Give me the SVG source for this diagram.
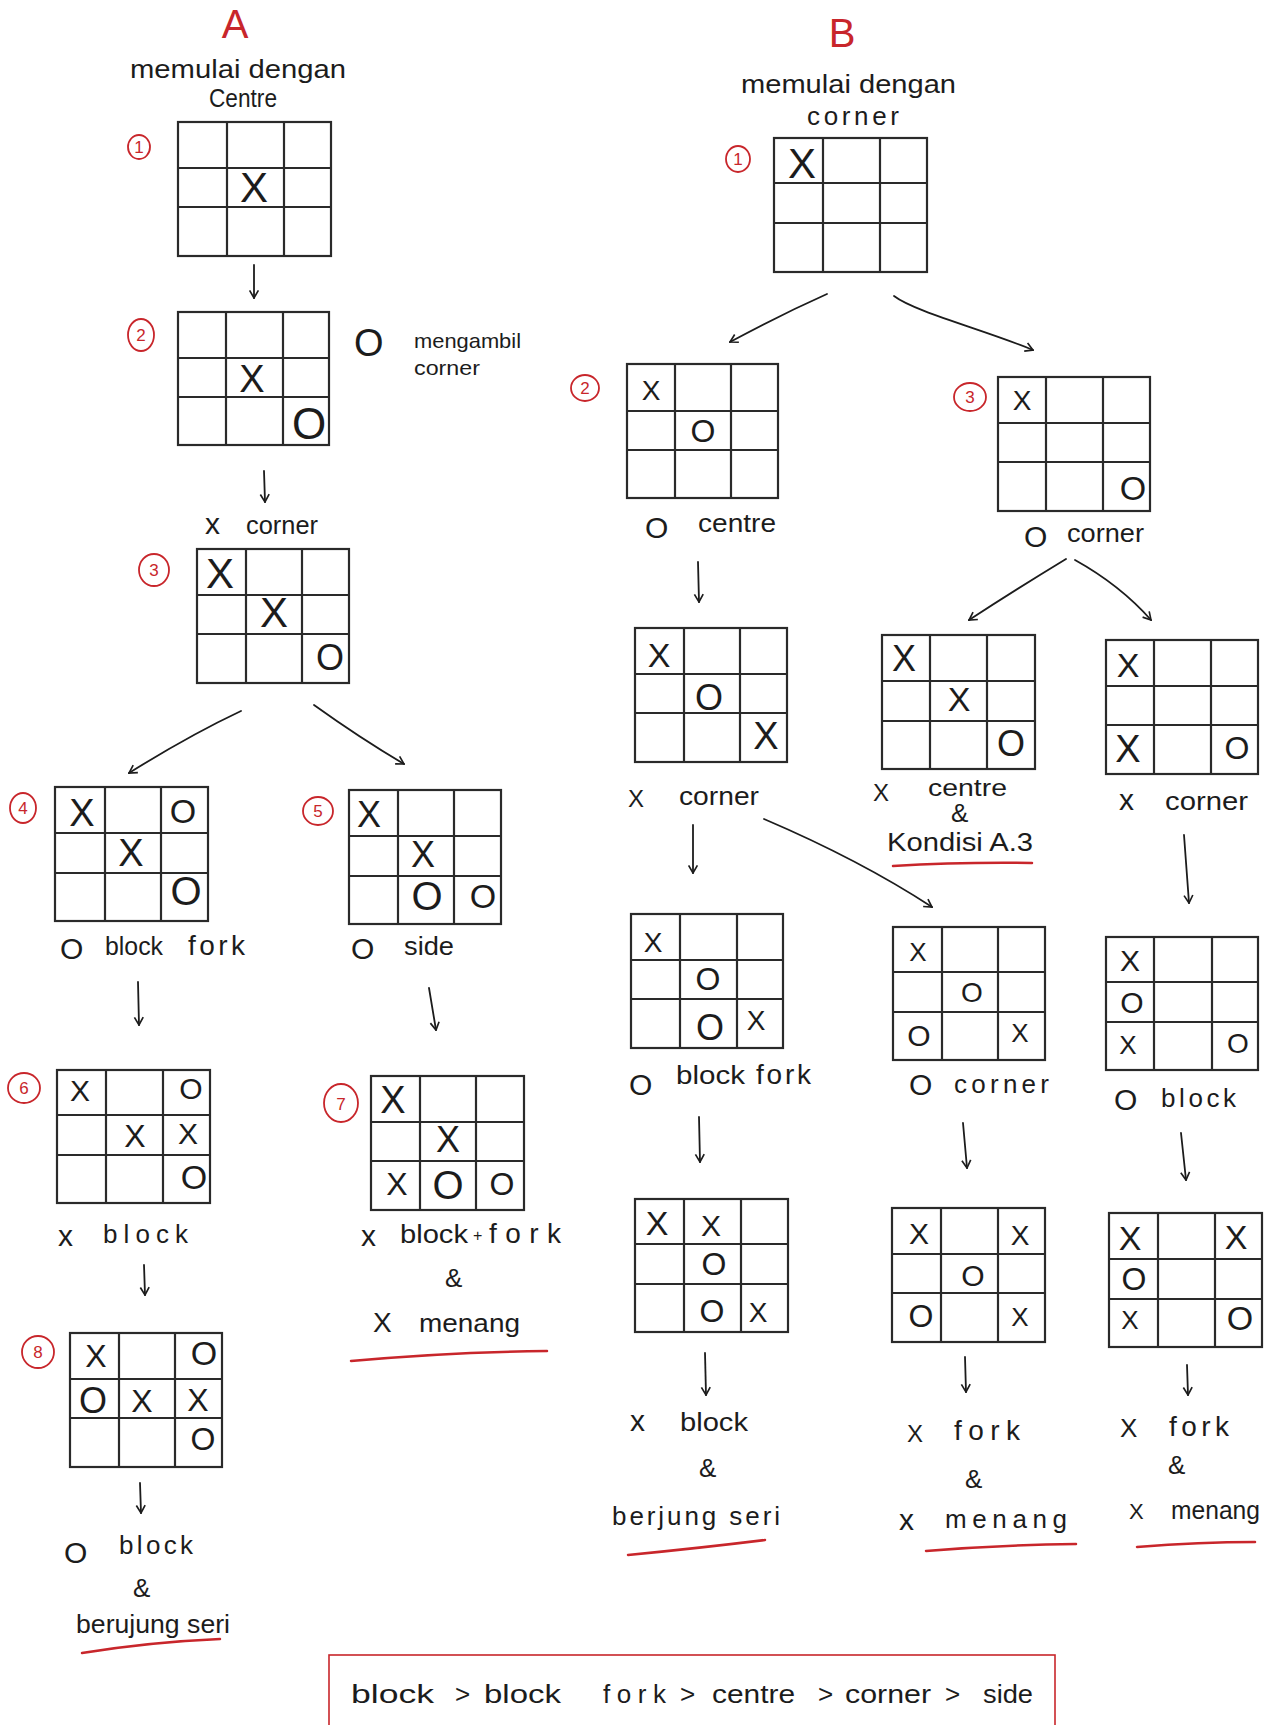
<svg xmlns="http://www.w3.org/2000/svg" width="1270" height="1725" viewBox="0 0 1270 1725">
<defs>
<style>
.lb{font-family:"Liberation Sans",Arial,sans-serif;font-size:26px;fill:#1c1c1c}
.o{font-size:30px}
.sx{font-size:30px}
.fk{font-size:28px}
.mk{font-family:"Liberation Sans",Arial,sans-serif;fill:#1c1c1c;text-anchor:middle}
.ttl{font-family:"Liberation Sans",Arial,sans-serif;fill:#c8262b;text-anchor:middle;font-size:40px}
.num{font-family:"Liberation Sans",Arial,sans-serif;font-size:17px;fill:#c8262b;text-anchor:middle}
.circ{fill:none;stroke:#c8262b;stroke-width:1.8}
.grid rect,.grid path{fill:none;stroke:#2a2a2a;stroke-width:2.2}
.ul{fill:none;stroke:#c8262b;stroke-width:2.5;stroke-linecap:round}
.arr{fill:none;stroke:#1c1c1c;stroke-width:1.8;stroke-linecap:round;marker-end:url(#ah)}
.box{fill:none;stroke:#c8262b;stroke-width:1.6}
</style>
<marker id="ah" viewBox="0 0 10 10" refX="9" refY="5" markerWidth="11" markerHeight="11" markerUnits="userSpaceOnUse" orient="auto">
<path d="M2,1 L9,5 L2,9" fill="none" stroke="#1c1c1c" stroke-width="1.5"/>
</marker>
</defs>
<rect width="1270" height="1725" fill="#ffffff"/>

<g id="header-A">
<text class="ttl" x="235" y="38">A</text>
<text class="lb" x="130" y="78" textLength="216" lengthAdjust="spacingAndGlyphs">memulai dengan</text>
<text class="lb" x="209" y="107" textLength="68" lengthAdjust="spacingAndGlyphs">Centre</text>
</g>
<g id="header-B">
<text class="ttl" x="842" y="47">B</text>
<text class="lb" x="741" y="93" textLength="215" lengthAdjust="spacingAndGlyphs">memulai dengan</text>
<text class="lb" x="807" y="125" textLength="92">corner</text>
</g>

<g id="connectors">
<path id="c-A1-A2" class="arr" d="M254,265 L254,298"/>
<path id="c-A2-A3" class="arr" d="M264,471 L265,502"/>
<path id="c-A3-A4" class="arr" d="M241,711 Q190,735 129,773"/>
<path id="c-A3-A5" class="arr" d="M314,705 Q360,738 404,764"/>
<path id="c-A4-A6" class="arr" d="M138,982 L139,1025"/>
<path id="c-A5-A7" class="arr" d="M429,988 L436,1030"/>
<path id="c-A6-A8" class="arr" d="M144,1265 L145,1295"/>
<path id="c-A8-end" class="arr" d="M140,1483 L141,1513"/>
<path id="c-B1-B2" class="arr" d="M827,294 Q780,315 730,342"/>
<path id="c-B1-B3" class="arr" d="M894,296 C915,312 985,330 1033,350"/>
<path id="c-B2-B4" class="arr" d="M698,562 L699,602"/>
<path id="c-B3-B5" class="arr" d="M1066,559 Q1015,590 969,620"/>
<path id="c-B3-B6" class="arr" d="M1075,560 Q1120,585 1151,620"/>
<path id="c-B4-B7" class="arr" d="M693,825 L693,873"/>
<path id="c-B4-B8" class="arr" d="M764,819 Q860,860 932,907"/>
<path id="c-B6-B9" class="arr" d="M1184,835 L1189,903"/>
<path id="c-B7-B10" class="arr" d="M699,1117 L700,1162"/>
<path id="c-B8-B11" class="arr" d="M963,1123 L967,1168"/>
<path id="c-B9-B12" class="arr" d="M1181,1133 L1186,1180"/>
<path id="c-B10-end" class="arr" d="M705,1353 L706,1395"/>
<path id="c-B11-end" class="arr" d="M965,1357 L966,1392"/>
<path id="c-B12-end" class="arr" d="M1187,1365 L1188,1395"/>
</g>

<g id="node-A1">
<g class="grid"><rect x="178" y="122" width="153" height="134"/><path d="M227,122V256M284,122V256M178,168H331M178,207H331"/></g>
<text class="mk" x="254" y="202" font-size="42">X</text>
<ellipse class="circ" cx="139" cy="147" rx="11" ry="12"/><text class="num" x="139" y="153">1</text>
</g>
<g id="node-A2">
<g class="grid"><rect x="178" y="312" width="151" height="133"/><path d="M226,312V445M283,312V445M178,358H329M178,397H329"/></g>
<text class="mk" x="252" y="392" font-size="38">X</text>
<text class="mk" x="309" y="439" font-size="44">O</text>
<ellipse class="circ" cx="141" cy="335" rx="13" ry="16"/><text class="num" x="141" y="341">2</text>
</g>
<g id="note-A2">
<text class="lb"><tspan x="354" y="356" font-size="38">O</tspan> <tspan x="414" y="348" font-size="21" textLength="107" lengthAdjust="spacingAndGlyphs">mengambil</tspan> <tspan x="414" y="375" font-size="21" textLength="66" lengthAdjust="spacingAndGlyphs">corner</tspan></text>
</g>
<g id="node-A3">
<g class="grid"><rect x="197" y="549" width="152" height="134"/><path d="M246,549V683M302,549V683M197,595H349M197,634H349"/></g>
<text class="mk" x="220" y="588" font-size="42">X</text>
<text class="mk" x="274" y="627" font-size="42">X</text>
<text class="mk" x="330" y="670" font-size="36">O</text>
<ellipse class="circ" cx="154" cy="570" rx="15" ry="16"/><text class="num" x="154" y="576">3</text>
<text class="lb" y="534"><tspan class="sx" x="205">x</tspan> <tspan x="246" textLength="72" lengthAdjust="spacingAndGlyphs">corner</tspan></text>
</g>
<g id="node-A4">
<g class="grid"><rect x="55" y="787" width="153" height="134"/><path d="M105,787V921M161,787V921M55,833H208M55,873H208"/></g>
<text class="mk" x="82" y="826" font-size="38">X</text>
<text class="mk" x="183" y="823" font-size="34">O</text>
<text class="mk" x="131" y="866" font-size="38">X</text>
<text class="mk" x="186" y="905" font-size="40">O</text>
<ellipse class="circ" cx="23" cy="808" rx="13" ry="15"/><text class="num" x="23" y="814">4</text>
<text class="lb"><tspan class="o" x="60" y="959">O</tspan> <tspan x="105" y="955" textLength="58" lengthAdjust="spacingAndGlyphs">block</tspan> <tspan class="fk" x="188" y="955" textLength="57">fork</tspan></text>
</g>
<g id="node-A5">
<g class="grid"><rect x="349" y="790" width="152" height="134"/><path d="M398,790V924M454,790V924M349,836H501M349,876H501"/></g>
<text class="mk" x="369" y="827" font-size="36">X</text>
<text class="mk" x="423" y="867" font-size="36">X</text>
<text class="mk" x="427" y="910" font-size="40">O</text>
<text class="mk" x="483" y="908" font-size="34">O</text>
<ellipse class="circ" cx="318" cy="811" rx="15" ry="14"/><text class="num" x="318" y="817">5</text>
<text class="lb"><tspan class="o" x="351" y="959">O</tspan> <tspan x="404" y="955" textLength="50" lengthAdjust="spacingAndGlyphs">side</tspan></text>
</g>
<g id="node-A6">
<g class="grid"><rect x="57" y="1070" width="153" height="133"/><path d="M106,1070V1203M163,1070V1203M57,1115H210M57,1155H210"/></g>
<text class="mk" x="80" y="1101" font-size="30">X</text>
<text class="mk" x="191" y="1099" font-size="30">O</text>
<text class="mk" x="135" y="1147" font-size="32">X</text>
<text class="mk" x="188" y="1144" font-size="30">X</text>
<text class="mk" x="194" y="1189" font-size="34">O</text>
<ellipse class="circ" cx="24" cy="1088" rx="16" ry="15"/><text class="num" x="24" y="1094">6</text>
<text class="lb" y="1246"><tspan class="sx" x="58">x</tspan> <tspan x="103" y="1243" textLength="85">block</tspan></text>
</g>
<g id="node-A7">
<g class="grid"><rect x="371" y="1076" width="153" height="134"/><path d="M420,1076V1210M476,1076V1210M371,1122H524M371,1161H524"/></g>
<text class="mk" x="393" y="1113" font-size="38">X</text>
<text class="mk" x="448" y="1152" font-size="36">X</text>
<text class="mk" x="397" y="1195" font-size="32">X</text>
<text class="mk" x="448" y="1199" font-size="40">O</text>
<text class="mk" x="502" y="1195" font-size="32">O</text>
<ellipse class="circ" cx="341" cy="1103" rx="17" ry="19"/><text class="num" x="341" y="1110" font-size="20">7</text>
<text class="lb" y="1246"><tspan class="sx" x="361">x</tspan> <tspan x="400" y="1243" textLength="68" lengthAdjust="spacingAndGlyphs">block</tspan> <tspan x="473" y="1241" font-size="16">+</tspan> <tspan class="fk" x="489" y="1243" textLength="72">fork</tspan></text>
<text class="lb" x="445" y="1287" font-size="20">&amp;</text>
<text class="lb" y="1332"><tspan x="373" font-size="28">X</tspan> <tspan x="419" textLength="101" lengthAdjust="spacingAndGlyphs">menang</tspan></text>
<path class="ul" d="M351,1361 Q450,1352 547,1351"/>
</g>
<g id="node-A8">
<g class="grid"><rect x="70" y="1333" width="152" height="134"/><path d="M119,1333V1467M175,1333V1467M70,1379H222M70,1418H222"/></g>
<text class="mk" x="96" y="1367" font-size="32">X</text>
<text class="mk" x="204" y="1365" font-size="34">O</text>
<text class="mk" x="93" y="1413" font-size="36">O</text>
<text class="mk" x="142" y="1412" font-size="32">X</text>
<text class="mk" x="198" y="1411" font-size="32">X</text>
<text class="mk" x="203" y="1450" font-size="32">O</text>
<ellipse class="circ" cx="38" cy="1352" rx="16" ry="16"/><text class="num" x="38" y="1358">8</text>
<text class="lb"><tspan class="o" x="64" y="1563">O</tspan> <tspan x="119" y="1554" textLength="74">block</tspan></text>
<text class="lb" x="133" y="1597" font-size="20">&amp;</text>
<text class="lb" x="76" y="1633" font-size="23" textLength="154" lengthAdjust="spacingAndGlyphs">berujung seri</text>
<path class="ul" d="M82,1653 Q150,1642 220,1639"/>
</g>

<g id="node-B1">
<g class="grid"><rect x="774" y="138" width="153" height="134"/><path d="M823,138V272M880,138V272M774,183H927M774,223H927"/></g>
<text class="mk" x="802" y="178" font-size="42">X</text>
<ellipse class="circ" cx="738" cy="159" rx="12" ry="13"/><text class="num" x="738" y="165">1</text>
</g>
<g id="node-B2">
<g class="grid"><rect x="627" y="364" width="151" height="134"/><path d="M675,364V498M731,364V498M627,411H778M627,450H778"/></g>
<text class="mk" x="651" y="400" font-size="28">X</text>
<text class="mk" x="703" y="442" font-size="32">O</text>
<ellipse class="circ" cx="585" cy="388" rx="14" ry="13"/><text class="num" x="585" y="394">2</text>
<text class="lb"><tspan class="o" x="645" y="538">O</tspan> <tspan x="698" y="532" textLength="78" lengthAdjust="spacingAndGlyphs">centre</tspan></text>
</g>
<g id="node-B3">
<g class="grid"><rect x="998" y="377" width="152" height="134"/><path d="M1046,377V511M1103,377V511M998,423H1150M998,462H1150"/></g>
<text class="mk" x="1022" y="410" font-size="28">X</text>
<text class="mk" x="1133" y="500" font-size="34">O</text>
<ellipse class="circ" cx="970" cy="397" rx="16" ry="14"/><text class="num" x="970" y="403">3</text>
<text class="lb"><tspan class="o" x="1024" y="547">O</tspan> <tspan x="1067" y="542" textLength="77" lengthAdjust="spacingAndGlyphs">corner</tspan></text>
</g>
<g id="node-B4">
<g class="grid"><rect x="635" y="628" width="152" height="134"/><path d="M684,628V762M740,628V762M635,674H787M635,713H787"/></g>
<text class="mk" x="659" y="667" font-size="34">X</text>
<text class="mk" x="709" y="710" font-size="36">O</text>
<text class="mk" x="766" y="749" font-size="38">X</text>
<text class="lb"><tspan x="628" y="807" font-size="24">X</tspan> <tspan x="679" y="805" textLength="80" lengthAdjust="spacingAndGlyphs">corner</tspan></text>
</g>
<g id="node-B5">
<g class="grid"><rect x="882" y="635" width="153" height="134"/><path d="M930,635V769M987,635V769M882,681H1035M882,721H1035"/></g>
<text class="mk" x="904" y="671" font-size="36">X</text>
<text class="mk" x="959" y="711" font-size="34">X</text>
<text class="mk" x="1011" y="756" font-size="36">O</text>
<text class="lb"><tspan x="873" y="801" font-size="24">X</tspan> <tspan x="928" y="796" font-size="24" textLength="79" lengthAdjust="spacingAndGlyphs">centre</tspan></text>
<text class="lb" x="951" y="822" font-size="13">&amp;</text>
<text class="lb" x="887" y="851" font-size="23" textLength="146" lengthAdjust="spacingAndGlyphs">Kondisi A.3</text>
<path class="ul" d="M893,866 Q960,862 1032,863"/>
</g>
<g id="node-B6">
<g class="grid"><rect x="1106" y="640" width="152" height="134"/><path d="M1154,640V774M1211,640V774M1106,686H1258M1106,725H1258"/></g>
<text class="mk" x="1128" y="677" font-size="34">X</text>
<text class="mk" x="1128" y="762" font-size="38">X</text>
<text class="mk" x="1237" y="759" font-size="32">O</text>
<text class="lb" y="810"><tspan class="sx" x="1119">x</tspan> <tspan x="1165" textLength="83" lengthAdjust="spacingAndGlyphs">corner</tspan></text>
</g>
<g id="node-B7">
<g class="grid"><rect x="631" y="914" width="152" height="134"/><path d="M680,914V1048M737,914V1048M631,960H783M631,999H783"/></g>
<text class="mk" x="653" y="952" font-size="28">X</text>
<text class="mk" x="708" y="990" font-size="32">O</text>
<text class="mk" x="710" y="1040" font-size="36">O</text>
<text class="mk" x="756" y="1030" font-size="28">X</text>
<text class="lb"><tspan class="o" x="629" y="1095">O</tspan> <tspan x="676" y="1084" textLength="69" lengthAdjust="spacingAndGlyphs">block</tspan> <tspan class="fk" x="756" y="1084" textLength="55">fork</tspan></text>
</g>
<g id="node-B8">
<g class="grid"><rect x="893" y="927" width="152" height="133"/><path d="M942,927V1060M998,927V1060M893,972H1045M893,1012H1045"/></g>
<text class="mk" x="918" y="961" font-size="26">X</text>
<text class="mk" x="972" y="1002" font-size="28">O</text>
<text class="mk" x="919" y="1046" font-size="30">O</text>
<text class="mk" x="1020" y="1042" font-size="26">X</text>
<text class="lb"><tspan class="o" x="909" y="1095">O</tspan> <tspan x="954" y="1093" textLength="95">corner</tspan></text>
</g>
<g id="node-B9">
<g class="grid"><rect x="1106" y="937" width="152" height="133"/><path d="M1154,937V1070M1212,937V1070M1106,982H1258M1106,1022H1258"/></g>
<text class="mk" x="1130" y="971" font-size="30">X</text>
<text class="mk" x="1132" y="1013" font-size="30">O</text>
<text class="mk" x="1128" y="1054" font-size="26">X</text>
<text class="mk" x="1238" y="1053" font-size="28">O</text>
<text class="lb"><tspan class="o" x="1114" y="1110">O</tspan> <tspan x="1161" y="1107" textLength="75">block</tspan></text>
</g>
<g id="node-B10">
<g class="grid"><rect x="635" y="1199" width="153" height="133"/><path d="M684,1199V1332M741,1199V1332M635,1244H788M635,1284H788"/></g>
<text class="mk" x="657" y="1235" font-size="34">X</text>
<text class="mk" x="711" y="1236" font-size="30">X</text>
<text class="mk" x="714" y="1275" font-size="32">O</text>
<text class="mk" x="712" y="1322" font-size="32">O</text>
<text class="mk" x="758" y="1322" font-size="28">X</text>
<text class="lb" y="1431"><tspan class="sx" x="630">x</tspan> <tspan x="680" textLength="68" lengthAdjust="spacingAndGlyphs">block</tspan></text>
<text class="lb" x="699" y="1477" font-size="18">&amp;</text>
<text class="lb" x="612" y="1525" textLength="168">berjung seri</text>
<path class="ul" d="M628,1555 Q700,1548 765,1540"/>
</g>
<g id="node-B11">
<g class="grid"><rect x="892" y="1208" width="153" height="134"/><path d="M941,1208V1342M998,1208V1342M892,1254H1045M892,1293H1045"/></g>
<text class="mk" x="919" y="1244" font-size="30">X</text>
<text class="mk" x="1020" y="1245" font-size="28">X</text>
<text class="mk" x="973" y="1286" font-size="30">O</text>
<text class="mk" x="921" y="1327" font-size="32">O</text>
<text class="mk" x="1020" y="1326" font-size="26">X</text>
<text class="lb"><tspan x="907" y="1442" font-size="24">X</tspan> <tspan class="fk" x="954" y="1440" textLength="66">fork</tspan></text>
<text class="lb" x="965" y="1488" font-size="20">&amp;</text>
<text class="lb" y="1530"><tspan class="sx" x="899">x</tspan> <tspan x="945" y="1528" textLength="122">menang</tspan></text>
<path class="ul" d="M926,1551 Q1000,1545 1076,1544"/>
</g>
<g id="node-B12">
<g class="grid"><rect x="1109" y="1213" width="153" height="134"/><path d="M1158,1213V1347M1215,1213V1347M1109,1259H1262M1109,1299H1262"/></g>
<text class="mk" x="1130" y="1250" font-size="34">X</text>
<text class="mk" x="1236" y="1249" font-size="34">X</text>
<text class="mk" x="1134" y="1290" font-size="32">O</text>
<text class="mk" x="1130" y="1329" font-size="26">X</text>
<text class="mk" x="1240" y="1330" font-size="34">O</text>
<text class="lb"><tspan x="1120" y="1437" font-size="26">X</tspan> <tspan class="fk" x="1169" y="1436" textLength="60">fork</tspan></text>
<text class="lb" x="1168" y="1474" font-size="22">&amp;</text>
<text class="lb" y="1519"><tspan x="1129" font-size="22">X</tspan> <tspan x="1171" textLength="89" lengthAdjust="spacingAndGlyphs">menang</tspan></text>
<path class="ul" d="M1137,1547 Q1200,1542 1255,1542"/>
</g>

<g id="priority-box">
<rect class="box" x="329" y="1655" width="726" height="90"/>
<text class="lb" y="1703" font-size="30"><tspan x="351" textLength="83" lengthAdjust="spacingAndGlyphs">block</tspan> <tspan x="455">&gt;</tspan> <tspan x="484" textLength="77" lengthAdjust="spacingAndGlyphs">block</tspan> <tspan x="603" textLength="63">fork</tspan> <tspan x="680">&gt;</tspan> <tspan x="712" textLength="83" lengthAdjust="spacingAndGlyphs">centre</tspan> <tspan x="818">&gt;</tspan> <tspan x="845" textLength="86" lengthAdjust="spacingAndGlyphs">corner</tspan> <tspan x="945">&gt;</tspan> <tspan x="983" textLength="50" lengthAdjust="spacingAndGlyphs">side</tspan></text>
</g>
</svg>
